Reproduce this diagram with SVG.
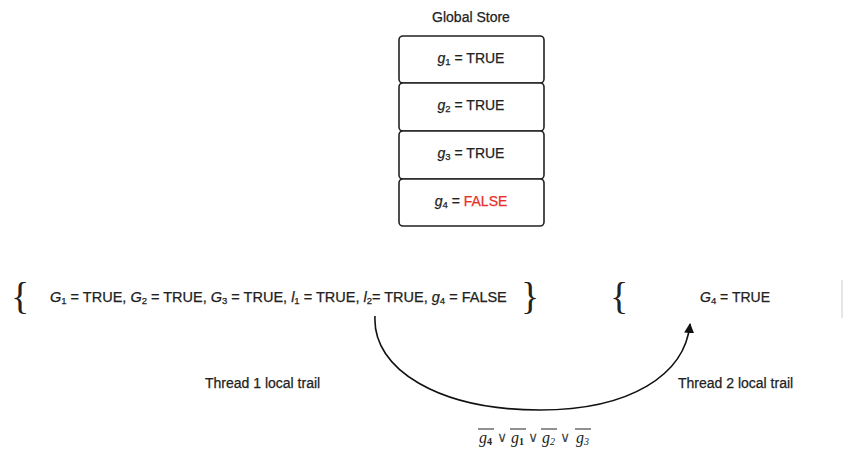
<svg xmlns="http://www.w3.org/2000/svg" width="844" height="454" viewBox="0 0 844 454">
  <style>
    .lbl { font-family: "Liberation Sans", Arial, sans-serif; font-size: 14px; fill: #222; stroke: #222; stroke-width: 0.25; }
    .wide { font-size: 14.5px; }
    .it { font-style: italic; }
    .sub { font-size: 9.5px; }
    .cell { fill: #fff; stroke: #222; stroke-width: 1.6; }
    .brace { font-family: "Liberation Serif", "DejaVu Serif", serif; font-size: 38px; fill: #222; }
    .math { font-family: "Liberation Serif", "DejaVu Serif", serif; font-size: 16px; fill: #222; }
    .or { font-family: "DejaVu Serif", serif; font-size: 14px; fill: #444; }
    .bar { stroke: #222; stroke-width: 1; }
  </style>
  <defs>
    <marker id="arrow" viewBox="0 0 10 10" refX="9" refY="5" markerWidth="10" markerHeight="10" markerUnits="userSpaceOnUse" orient="auto">
      <path d="M0,0 L10,5 L0,10 z" fill="#111"/>
    </marker>
  </defs>
  <rect width="844" height="454" fill="#fff"/>

  <!-- global store -->
  <g id="store">
    <text class="lbl" x="471" y="22" text-anchor="middle">Global Store</text>
    <g id="g1">
      <rect class="cell" x="399" y="36" width="145" height="47" rx="4"/>
      <text class="lbl" x="471" y="63" text-anchor="middle"><tspan class="it">g</tspan><tspan class="sub" dy="2">1</tspan><tspan dy="-2"> = TRUE</tspan></text>
    </g>
    <g id="g2">
      <rect class="cell" x="399" y="83" width="145" height="48" rx="4"/>
      <text class="lbl" x="471" y="110" text-anchor="middle"><tspan class="it">g</tspan><tspan class="sub" dy="2">2</tspan><tspan dy="-2"> = TRUE</tspan></text>
    </g>
    <g id="g3">
      <rect class="cell" x="399" y="131" width="145" height="48" rx="4"/>
      <text class="lbl" x="471" y="158" text-anchor="middle"><tspan class="it">g</tspan><tspan class="sub" dy="2">3</tspan><tspan dy="-2"> = TRUE</tspan></text>
    </g>
    <g id="g4">
      <rect class="cell" x="399" y="179" width="145" height="47" rx="4"/>
      <text class="lbl" x="471" y="206" text-anchor="middle"><tspan class="it">g</tspan><tspan class="sub" dy="2">4</tspan><tspan dy="-2"> = </tspan><tspan fill="#e8302a" stroke="#e8302a">FALSE</tspan></text>
    </g>
  </g>

  <!-- thread 1 local trail -->
  <g id="trail1">
    <text class="brace" x="11" y="309">{</text>
    <text class="lbl wide" x="50" y="302"><tspan class="it">G</tspan><tspan class="sub" dy="2">1</tspan><tspan dy="-2"> = TRUE, </tspan><tspan class="it">G</tspan><tspan class="sub" dy="2">2</tspan><tspan dy="-2"> = TRUE, </tspan><tspan class="it">G</tspan><tspan class="sub" dy="2">3</tspan><tspan dy="-2"> = TRUE, </tspan><tspan class="it">l</tspan><tspan class="sub" dy="2">1</tspan><tspan dy="-2"> = TRUE, </tspan><tspan class="it">l</tspan><tspan class="sub" dy="2">2</tspan><tspan dy="-2">= TRUE, </tspan><tspan class="it">g</tspan><tspan class="sub" dy="2">4</tspan><tspan dy="-2"> = FALSE</tspan></text>
    <text class="brace" x="521" y="309">}</text>
    <text class="lbl" x="205" y="388">Thread 1 local trail</text>
  </g>

  <!-- thread 2 local trail -->
  <g id="trail2">
    <text class="brace" x="610" y="309">{</text>
    <text class="lbl" x="700" y="302"><tspan class="it">G</tspan><tspan class="sub" dy="2">4</tspan><tspan dy="-2"> = TRUE</tspan></text>
    <line x1="842" y1="280" x2="842" y2="318" stroke="#ccc" stroke-width="1"/>
    <text class="lbl" x="678" y="388">Thread 2 local trail</text>
  </g>

  <!-- connector -->
  <g id="connectors">
    <path d="M375,316 C372,370 440,410 540,410 C630,410 685,375 690,324" fill="none" stroke="#111" stroke-width="1.6" marker-end="url(#arrow)"/>
  </g>

  <!-- clause label -->
  <g id="clause">
    <text class="math" x="479" y="443"><tspan class="it">g</tspan><tspan font-size="10" dy="2" font-weight="bold">4</tspan></text>
    <text class="or" x="497" y="442">∨</text>
    <text class="math" x="511" y="443"><tspan class="it">g</tspan><tspan font-size="10" dy="2" font-weight="bold">1</tspan></text>
    <text class="or" x="528" y="442">∨</text>
    <text class="math" x="542" y="443"><tspan class="it">g</tspan><tspan font-size="10" dy="2" class="it">2</tspan></text>
    <text class="or" x="560" y="442">∨</text>
    <text class="math" x="576" y="443"><tspan class="it">g</tspan><tspan font-size="10" dy="2" class="it">3</tspan></text>
    <line class="bar" x1="478" y1="429" x2="494" y2="429"/>
    <line class="bar" x1="510" y1="429" x2="526" y2="429"/>
    <line class="bar" x1="541" y1="429" x2="557" y2="429"/>
    <line class="bar" x1="575" y1="429" x2="591" y2="429"/>
  </g>
</svg>
